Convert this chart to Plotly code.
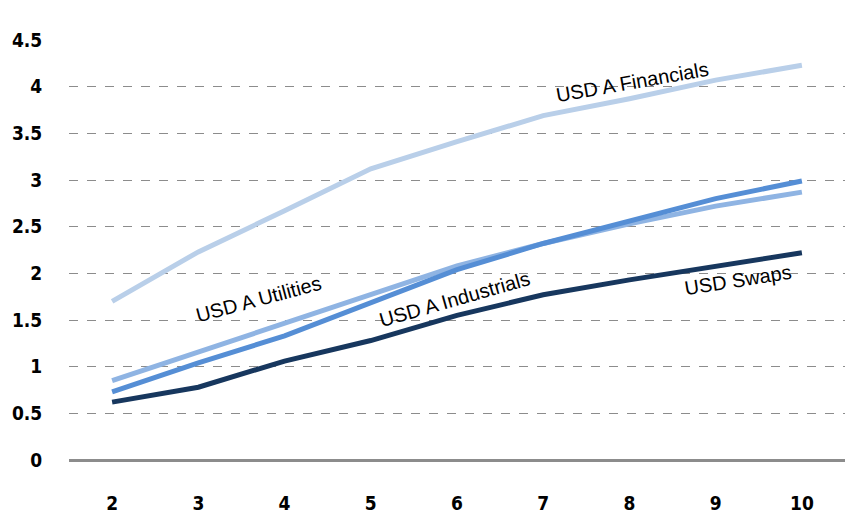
import plotly.graph_objects as go

tenors = [2, 3, 4, 5, 6, 7, 8, 9, 10]
financials = [1.70, 2.23, 2.67, 3.12, 3.41, 3.69, 3.87, 4.07, 4.23]
utilities = [0.85, 1.16, 1.47, 1.78, 2.08, 2.32, 2.53, 2.72, 2.87]
industrials = [0.73, 1.04, 1.33, 1.68, 2.04, 2.32, 2.56, 2.80, 2.99]
swaps = [0.62, 0.78, 1.06, 1.28, 1.55, 1.77, 1.93, 2.07, 2.22]
y_ticks = [0, 0.5, 1, 1.5, 2, 2.5, 3, 3.5, 4, 4.5]

series = [
    ("USD A Financials", financials, "#B9CFE9"),
    ("USD A Utilities", utilities, "#8FB4E3"),
    ("USD A Industrials", industrials, "#558ED5"),
    ("USD Swaps", swaps, "#17375E"),
]

labels = [
    ("USD A Financials", 8.03, 4.05, -10),
    ("USD A Utilities", 3.70, 1.73, -15),
    ("USD A Industrials", 5.98, 1.72, -16),
    ("USD Swaps", 9.26, 1.93, -9),
]

fig = go.Figure()
for name, vals, col in series:
    fig.add_trace(go.Scatter(x=tenors, y=vals, mode="lines", name=name,
                             line=dict(color=col, width=5)))

for txt, x, y, ang in labels:
    fig.add_annotation(x=x, y=y, text=txt, showarrow=False, textangle=ang,
                       font=dict(family="Liberation Sans, Arial", size=20, color="#000000"))

tickfont = dict(family="DejaVu Sans Condensed, DejaVu Sans", size=19, color="#000000")

fig.update_layout(
    width=845, height=514,
    margin=dict(l=69, r=0, t=40, b=51),
    paper_bgcolor="white", plot_bgcolor="white",
    showlegend=False,
    xaxis=dict(range=[1.5, 10.5], tickvals=tenors, ticktext=[f"<b>{t}</b>" for t in tenors],
               showgrid=False, zeroline=False, showline=False,
               ticks="outside", ticklen=26, tickcolor="rgba(0,0,0,0)",
               tickfont=tickfont),
    yaxis=dict(range=[0, 4.5], tickvals=y_ticks,
               ticktext=[f"<b>{v:g}</b>" for v in y_ticks],
               showgrid=True, gridcolor="#8C8C8C", griddash="dash", gridwidth=1,
               zeroline=True, zerolinecolor="#8C8C8C", zerolinewidth=3,
               showline=False, ticks="outside", ticklen=22, tickcolor="rgba(0,0,0,0)",
               tickfont=tickfont),
)

fig.write_html("out.html")
